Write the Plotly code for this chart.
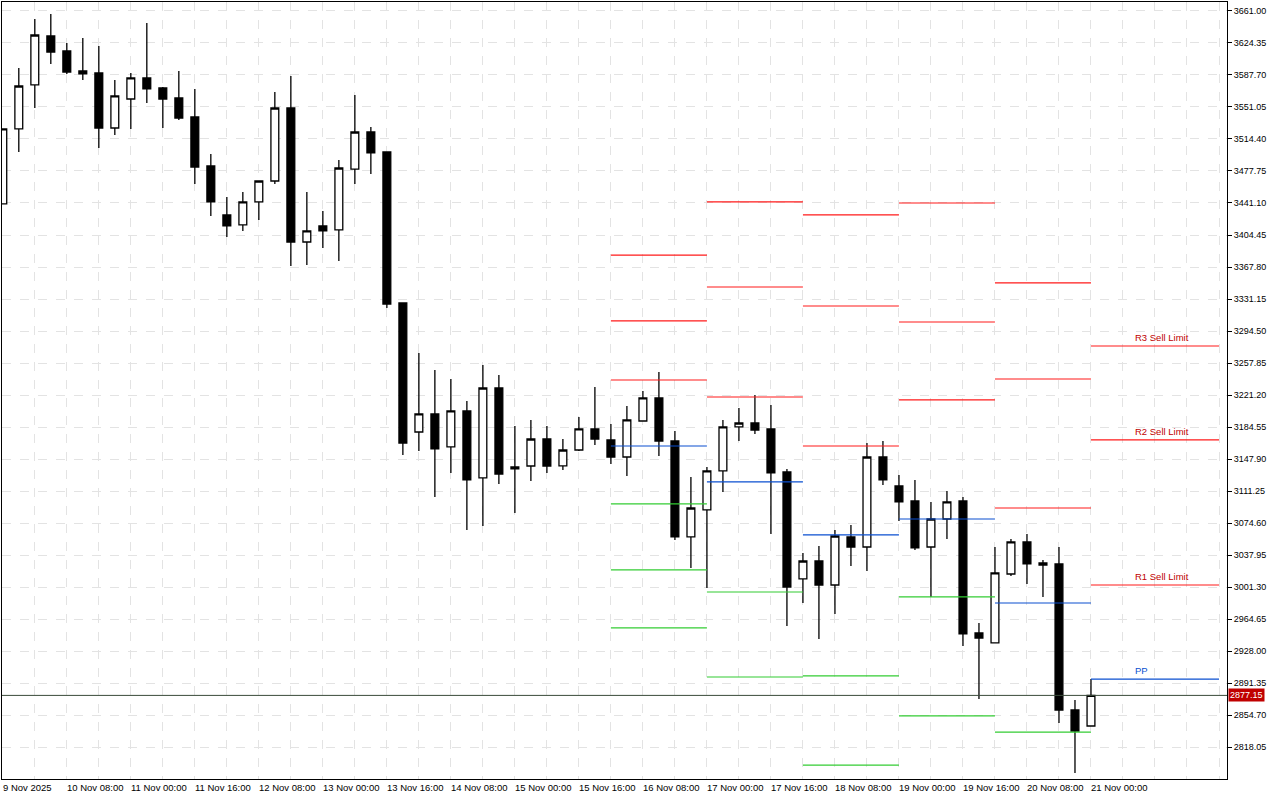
import plotly.graph_objects as go

opens = [3440.0,3525.9,3576.3,3632.4,3615.2,3592.3,3590.0,3527.0,3560.2,3584.3,3572.8,3561.4,3539.6,3483.5,3427.4,3416.0,3442.3,3466.3,3549.9,3396.4,
         3414.8,3410.2,3480.0,3522.4,3499.5,3326.6,3178.8,3199.5,3161.7,3202.9,3126.2,3229.2,3136.5,3139.9,3170.8,3140.0,3158.2,3182.3,3169.7,3150.2,
         3191.4,3217.8,3168.5,3058.6,3089.6,3134.2,3184.6,3189.1,3182.3,3133.0,3010.5,3031.1,3003.6,3058.6,3047.1,3150.2,3117.0,3099.8,3047.1,3079.2,
         3099.8,2948.6,2937.2,3016.2,3052.9,3028.8,3027.7,2860.4,2842.1]
highs = [3525.9,3595.7,3651.8,3657.6,3624.4,3630.1,3620.9,3582.0,3590.0,3647.3,3574.0,3592.3,3571.7,3497.2,3448.0,3453.7,3466.3,3568.2,3586.6,3453.7,
         3432.0,3490.4,3564.8,3528.1,3499.5,3326.6,3269.3,3249.9,3239.5,3214.3,3255.6,3244.1,3185.7,3192.6,3185.7,3170.8,3196.0,3230.4,3188.0,3208.6,
         3225.8,3247.6,3180.0,3127.3,3138.8,3192.6,3206.3,3221.2,3209.8,3136.5,3040.2,3048.3,3066.6,3072.3,3166.2,3168.5,3129.6,3123.9,3098.7,3111.3,
         3104.4,2960.1,3047.1,3056.3,3062.0,3032.2,3047.1,2871.9,2895.9]
lows = [3440.0,3499.5,3549.9,3600.3,3588.9,3582.0,3504.1,3519.0,3525.9,3555.6,3527.0,3536.2,3462.9,3426.2,3402.2,3409.1,3421.7,3462.9,3369.0,3370.1,
        3389.6,3374.7,3462.9,3474.3,3320.9,3152.5,3157.1,3104.4,3131.9,3066.6,3071.2,3119.3,3086.1,3122.7,3131.9,3135.3,3157.1,3164.0,3142.2,3128.5,
        3191.4,3151.4,3055.1,3023.1,3000.2,3110.1,3168.5,3176.5,3062.0,2956.7,2983.0,2941.8,2970.4,3025.4,3019.6,3118.1,3076.9,3043.7,2989.9,3056.3,
        2933.7,2873.1,2937.2,3013.9,3004.8,2989.9,2845.6,2788.3,2842.1]
closes = [3525.9,3575.1,3633.5,3614.0,3591.1,3588.9,3527.0,3563.7,3584.3,3571.7,3560.2,3538.4,3482.3,3442.3,3414.8,3442.3,3466.3,3549.9,3396.4,3409.1,
          3409.1,3481.2,3522.4,3498.4,3325.4,3166.2,3199.5,3159.4,3202.9,3123.9,3229.2,3130.7,3138.8,3170.8,3139.9,3158.2,3182.3,3170.8,3150.2,3192.6,
          3217.8,3168.5,3058.6,3091.8,3134.2,3184.6,3189.1,3181.1,3131.9,3001.3,3031.1,3003.6,3059.7,3047.1,3150.2,3123.9,3098.7,3046.0,3079.2,3098.7,
          2947.5,2942.9,3017.4,3052.9,3027.7,3026.5,2860.4,2836.4,2877.15]

x_labels = ["9 Nov 2025","10 Nov 08:00","11 Nov 00:00","11 Nov 16:00","12 Nov 08:00","13 Nov 00:00","13 Nov 16:00",
            "14 Nov 08:00","15 Nov 00:00","15 Nov 16:00","16 Nov 08:00","17 Nov 00:00","17 Nov 16:00","18 Nov 08:00",
            "19 Nov 00:00","19 Nov 16:00","20 Nov 08:00","21 Nov 00:00"]
y_ticks = [3661.00,3624.35,3587.70,3551.05,3514.40,3477.75,3441.10,3404.45,3367.80,3331.15,3294.50,3257.85,
           3221.20,3184.55,3147.90,3111.25,3074.60,3037.95,3001.30,2964.65,2928.00,2891.35,2854.70,2818.05]

# daily pivot levels (days starting 16 Nov .. 21 Nov)
R3 = [3381.5,3442.3,3427.4,3441.1,3349.5,3277.3]
R2 = [3306.0,3344.9,3323.1,3304.8,3239.5,3169.7]
R1 = [3238.4,3218.9,3162.8,3215.5,3091.8,3003.6]
PP = [3162.8,3121.6,3060.9,3079.2,2983.0,2895.9]
S1 = [3096.4,2995.6,2899.4,2989.9,2835.2,None]
S2 = [3020.8,2898.2,2797.4,2853.6,None,None]
S3 = [2954.4,None,None,None,None,None]
current_price = 2877.15

xs = list(range(len(opens)))
fig = go.Figure(go.Candlestick(
    x=xs, open=opens, high=highs, low=lows, close=closes,
    increasing=dict(line=dict(color="black", width=1.3), fillcolor="white"),
    decreasing=dict(line=dict(color="black", width=1.3), fillcolor="black"),
    whiskerwidth=0, showlegend=False, hoverinfo="skip"))

RED, BLUE, GREEN = "#ff1a1a", "#0a4fd0", "#33cc33"
shapes = []
for d in range(6):
    x0 = 38 + 6 * d
    x1 = x0 + 6 if d < 5 else 76
    for arr, col in ((R3, RED), (R2, RED), (R1, RED), (PP, BLUE), (S1, GREEN), (S2, GREEN), (S3, GREEN)):
        v = arr[d]
        if v is None:
            continue
        shapes.append(dict(type="line", xref="x", yref="y", x0=x0, x1=x1, y0=v, y1=v,
                           line=dict(color=col, width=1.2)))
shapes.append(dict(type="line", xref="paper", yref="y", x0=0, x1=1, y0=current_price, y1=current_price,
                   line=dict(color="#3a4a3a", width=1)))

ann = []
for i, t in enumerate(x_labels):
    ann.append(dict(x=4 * i, y=0, xref="x", yref="paper", yanchor="top", xanchor="left",
                    xshift=-2, yshift=-1, text=t, showarrow=False,
                    font=dict(size=9.5, color="black")))
for lab, v, col in (("R3 Sell Limit", R3[5], "#c00000"), ("R2 Sell Limit", R2[5], "#c00000"),
                    ("R1 Sell Limit", R1[5], "#c00000"), ("PP", PP[5], BLUE)):
    ann.append(dict(x=71, y=v, xref="x", yref="y", xanchor="left", yanchor="bottom", yshift=1,
                    xshift=-6, text=lab, showarrow=False, font=dict(size=9.5, color=col)))
ann.append(dict(x=1, y=current_price, xref="paper", yref="y", xanchor="left", yanchor="middle",
                text="2877.15", showarrow=False, bgcolor="#c00000", font=dict(size=9, color="white"),
                borderpad=1, xshift=1))

fig.update_layout(
    width=1280, height=800, margin=dict(l=2, r=53, t=2, b=21),
    paper_bgcolor="white", plot_bgcolor="white",
    font=dict(family="Liberation Sans, Arial", size=9.5, color="black"),
    shapes=shapes, annotations=ann,
    xaxis=dict(range=[-0.05, 76.5], rangeslider=dict(visible=False), showticklabels=False,
               tickmode="linear", tick0=0, dtick=2, showgrid=True, gridcolor="#e3e3e3", griddash="dash",
               zeroline=False, showline=True, linecolor="black", mirror=True, ticks=""),
    yaxis=dict(range=[2781.4, 3671.3], side="right", tickvals=y_ticks,
               ticktext=[f"{v:.2f}" for v in y_ticks], showgrid=True, gridcolor="#e3e3e3", griddash="dash",
               zeroline=False, showline=True, linecolor="black", mirror=True, ticks="outside",
               ticklen=4, tickcolor="black", tickfont=dict(size=9)),
)
fig.write_html("out.html", config={"displayModeBar": False},
               post_script="document.body.style.margin='0';document.body.style.overflow='hidden';")
